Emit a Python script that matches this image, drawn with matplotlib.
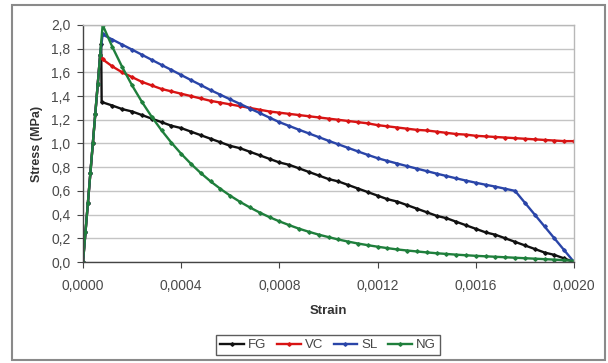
"""
=========================================================
Stress - Strain curves (FG, VC, SL, NG)
=========================================================
"""

import matplotlib
matplotlib.use("Agg")

import matplotlib.pyplot as plt
from matplotlib.patches import Rectangle
from matplotlib.ticker import FuncFormatter

# =========================================================
# DATA
# =========================================================

# ascending (elastic) branch, shared by all series
STRAIN_UP = [0.0, 0.00001, 0.00002, 0.00003, 0.00004,
             0.00005, 0.00006, 0.00007, 0.00008]
STRESS_UP = [0.0, 0.25, 0.50, 0.75, 1.00, 1.25, 1.50, 1.75, 2.00]

# softening branch, strain sampled every 0.00004
STRAIN_DOWN = [
    0.00008, 0.00012, 0.00016, 0.00020, 0.00024, 0.00028, 0.00032,
    0.00036, 0.00040, 0.00044, 0.00048, 0.00052, 0.00056, 0.00060,
    0.00064, 0.00068, 0.00072, 0.00076, 0.00080, 0.00084, 0.00088,
    0.00092, 0.00096, 0.00100, 0.00104, 0.00108, 0.00112, 0.00116,
    0.00120, 0.00124, 0.00128, 0.00132, 0.00136, 0.00140, 0.00144,
    0.00148, 0.00152, 0.00156, 0.00160, 0.00164, 0.00168, 0.00172,
    0.00176, 0.00180, 0.00184, 0.00188, 0.00192, 0.00196, 0.00200,
]

# FG drops vertically just before the peak
FG_STRAIN_DROP = [0.000074, 0.000076]
FG_STRESS_DROP = [1.84, 1.35]

FG = [
    1.35, 1.32, 1.29, 1.27, 1.24, 1.21, 1.18, 1.15, 1.13, 1.10,
    1.07, 1.04, 1.01, 0.98, 0.96, 0.93, 0.90, 0.87, 0.84, 0.82,
    0.79, 0.76, 0.73, 0.70, 0.68, 0.65, 0.62, 0.59, 0.56, 0.53,
    0.51, 0.48, 0.45, 0.42, 0.39, 0.37, 0.34, 0.31, 0.28, 0.25,
    0.23, 0.20, 0.17, 0.14, 0.11, 0.08, 0.06, 0.03, 0.00,
]

VC = [
    1.71, 1.65, 1.60, 1.56, 1.52, 1.49, 1.46, 1.44, 1.42, 1.40,
    1.38, 1.36, 1.345, 1.33, 1.315, 1.30, 1.285, 1.27, 1.26, 1.25,
    1.24, 1.23, 1.22, 1.21, 1.20, 1.19, 1.18, 1.17, 1.155, 1.145,
    1.135, 1.125, 1.115, 1.11, 1.10, 1.09, 1.08, 1.075, 1.065, 1.06,
    1.055, 1.05, 1.045, 1.04, 1.035, 1.03, 1.025, 1.02, 1.02,
]

SL = [
    1.92, 1.877, 1.834, 1.792, 1.749, 1.706, 1.663, 1.621, 1.578, 1.535,
    1.493, 1.450, 1.411, 1.372, 1.334, 1.295, 1.257, 1.218, 1.180, 1.148,
    1.116, 1.085, 1.054, 1.023, 0.993, 0.963, 0.933, 0.904, 0.876, 0.853,
    0.831, 0.809, 0.788, 0.767, 0.746, 0.726, 0.706, 0.687, 0.669, 0.652,
    0.636, 0.618, 0.600, 0.50, 0.40, 0.30, 0.20, 0.10, 0.00,
]

NG = [
    2.000, 1.813, 1.644, 1.490, 1.351, 1.225, 1.111, 1.007, 0.913, 0.828,
    0.750, 0.680, 0.617, 0.559, 0.507, 0.460, 0.417, 0.378, 0.343, 0.311,
    0.281, 0.255, 0.231, 0.210, 0.190, 0.172, 0.156, 0.142, 0.129, 0.117,
    0.106, 0.097, 0.089, 0.081, 0.074, 0.068, 0.062, 0.057, 0.052, 0.048,
    0.044, 0.040, 0.036, 0.032, 0.028, 0.024, 0.020, 0.015, 0.010,
]

LABELS = ["FG", "VC", "SL", "NG"]
COLORS = ["#111111", "#d81414", "#2a45a8", "#1f7f3c"]

X_TICKS = [0.0, 0.0004, 0.0008, 0.0012, 0.0016, 0.0020]
Y_TICKS = [0.0, 0.2, 0.4, 0.6, 0.8, 1.0, 1.2, 1.4, 1.6, 1.8, 2.0]

# =========================================================
# BUILD CURVES
# =========================================================

# VC and SL leave the elastic branch right at its last point
curves = [
    (STRAIN_UP[:8] + FG_STRAIN_DROP + STRAIN_DOWN[1:],
     STRESS_UP[:8] + FG_STRESS_DROP + FG[1:]),
    (STRAIN_UP[:8] + STRAIN_DOWN, STRESS_UP[:8] + VC),
    (STRAIN_UP[:8] + STRAIN_DOWN, STRESS_UP[:8] + SL),
    (STRAIN_UP + STRAIN_DOWN[1:], STRESS_UP + NG[1:]),
]

# =========================================================
# FIGURE
# =========================================================

plt.rcParams["font.family"] = ["Liberation Sans", "DejaVu Sans"]

fig = plt.figure(figsize=(6.08, 3.63), dpi=100)

ax = fig.add_axes([83 / 608, 1 - 262 / 363,
                   (574 - 83) / 608, (262 - 25) / 363])

for (x, y), label, color in zip(curves, LABELS, COLORS):

    ax.plot(
        x, y,
        color=color,
        linewidth=1.7,
        marker="D",
        markersize=1.8,
        label=label,
    )

# =========================================================
# AXES
# =========================================================

ax.set_xlim(0, 0.0020)
ax.set_ylim(0, 2.0)

ax.set_xticks(X_TICKS)
ax.set_yticks(Y_TICKS)

ax.xaxis.set_major_formatter(
    FuncFormatter(lambda v, p: f"{v:.4f}".replace(".", ","))
)
ax.yaxis.set_major_formatter(
    FuncFormatter(lambda v, p: f"{v:.1f}".replace(".", ","))
)

ax.tick_params(axis="both", direction="out", length=4,
               width=0.8, color="#444444",
               labelsize=10, labelcolor="#4a4a4a")
ax.tick_params(axis="x", pad=8)
ax.tick_params(axis="y", pad=5)

ax.grid(axis="y", color="#c4c4c4", linewidth=1.0)
ax.set_axisbelow(True)

for side in ["left", "bottom"]:
    ax.spines[side].set_color("#444444")
    ax.spines[side].set_linewidth(1.0)

for side in ["top", "right"]:
    ax.spines[side].set_color("#b8b8b8")
    ax.spines[side].set_linewidth(1.0)

ax.set_xlabel("Strain", fontsize=9.5, fontweight="bold",
              color="#333333", labelpad=9)
ax.set_ylabel("Stress (MPa)", fontsize=9, fontweight="bold",
              color="#333333", labelpad=6)

# =========================================================
# LEGEND
# =========================================================

leg = fig.legend(
    loc="center",
    bbox_to_anchor=(328 / 608, 1 - 345 / 363),
    ncol=4,
    fontsize=9.5,
    frameon=True,
    fancybox=False,
    handlelength=1.8,
    handletextpad=0.3,
    columnspacing=0.8,
    borderpad=0.3,
)
leg.get_frame().set_edgecolor("#333333")
leg.get_frame().set_linewidth(1.0)
for text in leg.get_texts():
    text.set_color("#444444")

# =========================================================
# CHART BORDER
# =========================================================

fig.patches.append(
    Rectangle(
        (12 / 608, 1 - 360 / 363),
        (605 - 12) / 608,
        (360 - 5) / 363,
        transform=fig.transFigure,
        fill=False,
        edgecolor="#8a8a8a",
        linewidth=1.5,
    )
)

fig.savefig("out.png", dpi=100, facecolor="white")
